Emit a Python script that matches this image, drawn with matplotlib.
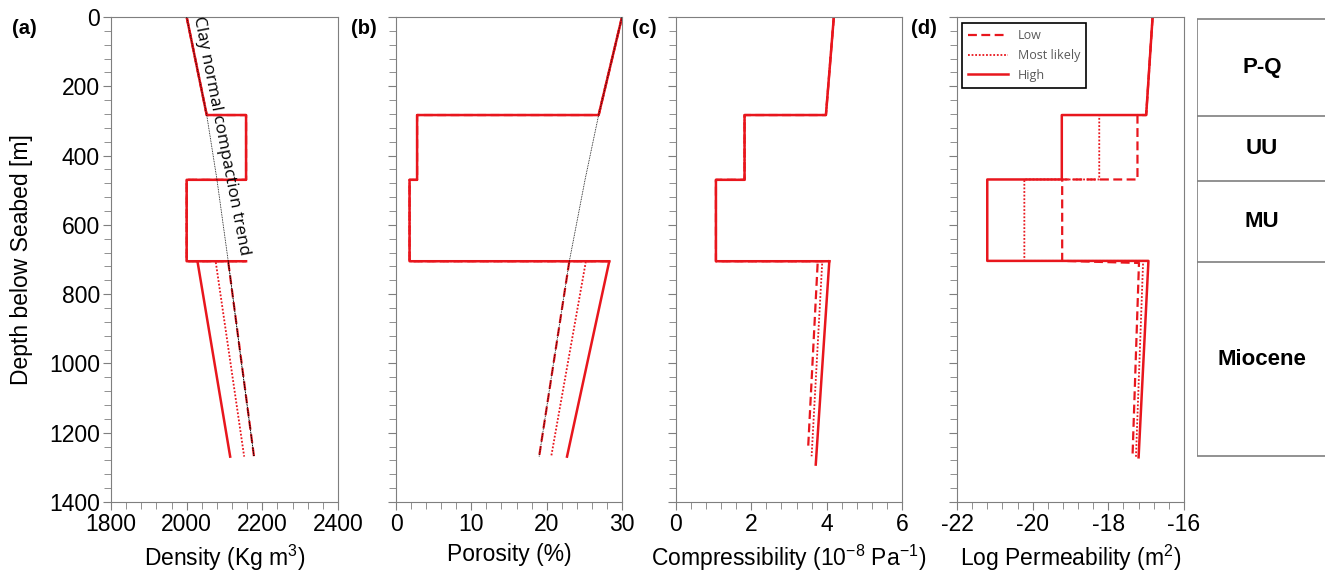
import numpy as np
import matplotlib
matplotlib.use("Agg")
import matplotlib.pyplot as plt
from matplotlib.ticker import MultipleLocator

plt.rcParams['font.family'] = ['Liberation Sans', 'DejaVu Sans']
plt.rcParams['mathtext.fontset'] = 'custom'
plt.rcParams['mathtext.rm'] = 'Liberation Sans'
plt.rcParams['mathtext.default'] = 'regular'
plt.rcParams['axes.unicode_minus'] = False

RED = '#e8161d'
GREY = '#7f7f7f'

# shallow layers (P-Q, UU, MU) shared by all cases, depth in m
depth_shallow = [0, 283, 283, 470, 470, 705, 705]
dens_shallow = [2000, 2053, 2157, 2157, 2000, 2000, 2157]
por_shallow = [30, 26.9, 2.8, 2.8, 1.8, 1.8, 28.3]
comp_shallow = [4.19, 3.98, 1.82, 1.82, 1.06, 1.06, 4.07]

# Miocene section, per case
dens_mio_depth = [708, 1269]
dens_low = [2110, 2178]
dens_ml = [2077, 2152]
dens_high = [2029, 2115]

por_mio_depth = [706, 1269]
por_low = [23.0, 19.0]
por_ml = [25.2, 20.6]
por_high = [28.3, 22.7]

comp_low_depth = [712, 1239]
comp_low = [3.76, 3.51]
comp_ml_depth = [712, 1268]
comp_ml = [3.88, 3.60]
comp_high_depth = [705, 1292]
comp_high = [4.07, 3.71]

# log permeability, full profiles
perm_depth_high = [0, 283, 283, 469, 469, 704, 704, 1271]
perm_high = [-16.83, -17.0, -19.23, -19.23, -21.2, -21.2, -16.94, -17.20]
perm_depth_ml = [0, 283, 283, 469, 469, 704, 704, 1271]
perm_ml = [-16.83, -17.0, -18.24, -18.24, -20.22, -20.22, -17.08, -17.27]
perm_depth_low = [0, 283, 283, 469, 469, 704, 710, 1267]
perm_low = [-16.83, -17.0, -17.23, -17.23, -19.22, -19.22, -17.19, -17.36]

# clay normal compaction trend
trend_depth = [0, 283, 469, 706, 1000, 1269]
trend_dens = [2000, 2053, 2080, 2110, 2145, 2178]
trend_por = [30, 26.9, 25.1, 23.0, 20.9, 19.0]

# stratigraphy column
strat_bounds = [5, 287, 472, 708, 1268]
strat_names = ["P-Q", "UU", "MU", "Miocene"]

styles = {'low': dict(ls=(0, (4, 2)), lw=1.6),
          'ml': dict(ls=(0, (1, 1)), lw=1.3),
          'high': dict(ls='-', lw=1.8)}

fig = plt.figure(figsize=(13.25, 5.73), dpi=100)
W, H = 1325, 573
top, bot = 17, 502


def make_ax(x0, x1):
    return fig.add_axes([x0 / W, (H - bot) / H, (x1 - x0) / W, (bot - top) / H])


ax_a = make_ax(111, 338)
ax_b = make_ax(396, 622)
ax_c = make_ax(676, 902)
ax_d = make_ax(957, 1184)

# (a) density
for key in ['low', 'ml', 'high']:
    ax_a.plot(dens_shallow, depth_shallow, color=RED, **styles[key])
ax_a.plot(trend_dens, trend_depth, color='black', ls=(0, (1, 1)), lw=0.6, zorder=3)
ax_a.plot(dens_low, dens_mio_depth, color=RED, **styles['low'])
ax_a.plot(dens_ml, dens_mio_depth, color=RED, **styles['ml'])
ax_a.plot(dens_high, dens_mio_depth, color=RED, **styles['high'])
ax_a.plot(trend_dens[3:], trend_depth[3:], color='black', ls=(0, (1, 1)), lw=0.6, zorder=3)
ax_a.text(2090, 342, "Clay normal compaction trend", rotation=-79, fontsize=12.3,
          ha='center', va='center', family=['Open Sans', 'DejaVu Sans'])
ax_a.set_xlim(1800, 2400)
ax_a.set_xticks([1800, 2000, 2200, 2400])
ax_a.xaxis.set_minor_locator(MultipleLocator(40))
ax_a.set_xlabel("Density (Kg m$^3$)")

# (b) porosity
for key in ['low', 'ml', 'high']:
    ax_b.plot(por_shallow, depth_shallow, color=RED, **styles[key])
ax_b.plot(trend_por, trend_depth, color='black', ls=(0, (1, 1)), lw=0.6, zorder=3)
ax_b.plot(por_low, por_mio_depth, color=RED, **styles['low'])
ax_b.plot(por_ml, por_mio_depth, color=RED, **styles['ml'])
ax_b.plot(por_high, por_mio_depth, color=RED, **styles['high'])
ax_b.set_xlim(0, 30)
ax_b.set_xticks([0, 10, 20, 30])
ax_b.xaxis.set_minor_locator(MultipleLocator(2))
ax_b.set_xlabel("Porosity (%)")

# (c) compressibility
for key in ['low', 'ml', 'high']:
    ax_c.plot(comp_shallow, depth_shallow, color=RED, **styles[key])
ax_c.plot(comp_low, comp_low_depth, color=RED, **styles['low'])
ax_c.plot(comp_ml, comp_ml_depth, color=RED, **styles['ml'])
ax_c.plot(comp_high, comp_high_depth, color=RED, **styles['high'])
ax_c.set_xlim(0, 6)
ax_c.set_xticks([0, 2, 4, 6])
ax_c.xaxis.set_minor_locator(MultipleLocator(0.4))
ax_c.set_xlabel("Compressibility (10$^{-8}$ Pa$^{-1}$)")

# (d) permeability
l_low, = ax_d.plot(perm_low, perm_depth_low, color=RED, **styles['low'])
l_ml, = ax_d.plot(perm_ml, perm_depth_ml, color=RED, **styles['ml'])
l_high, = ax_d.plot(perm_high, perm_depth_high, color=RED, **styles['high'])
ax_d.set_xlim(-22, -16)
ax_d.set_xticks([-22, -20, -18, -16])
ax_d.xaxis.set_minor_locator(MultipleLocator(0.4))
ax_d.set_xlabel("Log Permeability (m$^2$)")
leg = ax_d.legend([l_low, l_ml, l_high], ["Low", "Most likely", "High"],
                  loc='upper left', bbox_to_anchor=(0.02, 0.988), borderaxespad=0,
                  fancybox=False, edgecolor='black', framealpha=1,
                  prop={'family': 'Open Sans', 'size': 9}, handlelength=3.2,
                  labelspacing=0.55, borderpad=0.5)
leg.get_frame().set_linewidth(1.2)
for t in leg.get_texts():
    t.set_color('#595959')

for ax in [ax_a, ax_b, ax_c, ax_d]:
    ax.set_ylim(1400, 0)
    ax.set_yticks(np.arange(0, 1401, 200))
    ax.yaxis.set_minor_locator(MultipleLocator(40))
    for s in ax.spines.values():
        s.set_color(GREY)
    ax.tick_params(which='both', direction='out', color=GREY, labelsize=16.5, pad=2)
    ax.tick_params(which='major', length=6)
    ax.tick_params(which='minor', length=5)
    ax.xaxis.label.set_size(16.5)
    ax.xaxis.labelpad = 5
    if ax is not ax_a:
        ax.set_yticklabels([])

fig.text(22 / W, 1 - 259.5 / H, "Depth below Seabed [m]", rotation=90,
         ha='center', va='center', fontsize=16.5)

for lab, xp in zip(["(a)", "(b)", "(c)", "(d)"], [12, 351, 632, 911]):
    fig.text(xp / W, 1 - 29 / H, lab, fontsize=14.5, fontweight='bold', ha='left', va='center')

# stratigraphy column
ax_s = make_ax(1197, 1356)
ax_s.set_xlim(0, 1)
ax_s.set_ylim(1400, 0)
ax_s.axis('off')
ax_s.hlines(strat_bounds, 0, 1, color=GREY, lw=1.2)
ax_s.vlines(0, strat_bounds[0], strat_bounds[-1], color=GREY, lw=1.2)
for i, name in enumerate(strat_names):
    mid = (strat_bounds[i] + strat_bounds[i + 1]) / 2
    ax_s.text(0.41, mid, name, fontsize=16, fontweight='bold', ha='center', va='center')

fig.savefig("out.png", dpi=100)
